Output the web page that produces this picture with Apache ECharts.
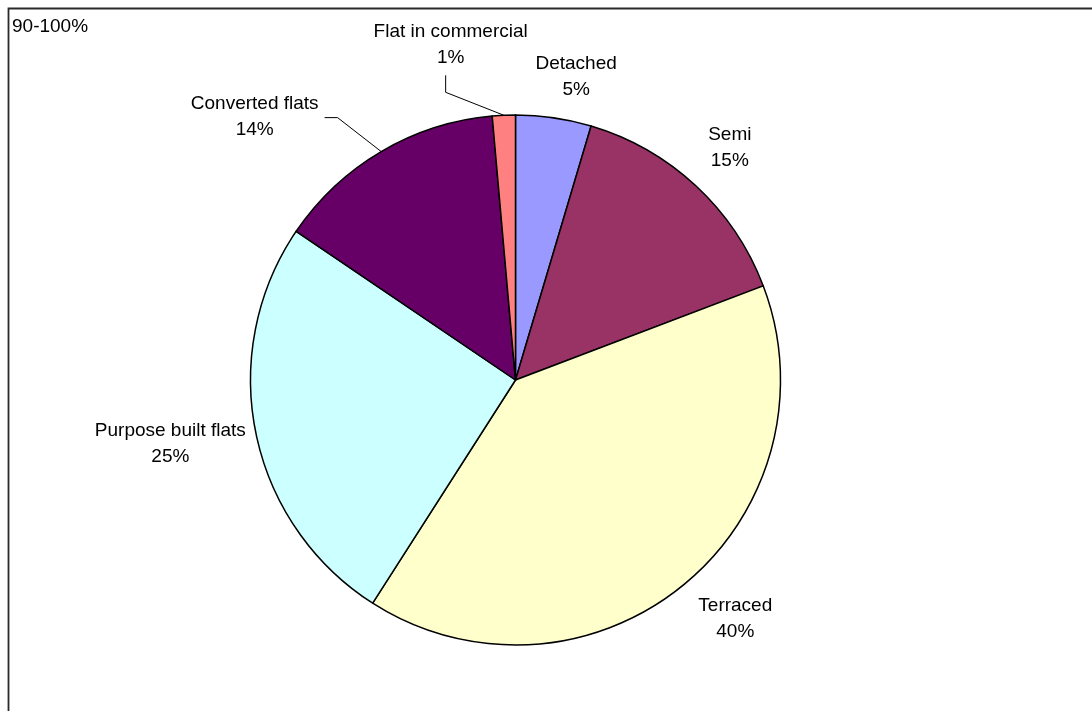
<!DOCTYPE html>
<html>
<head>
<meta charset="utf-8">
<script src="https://cdn.jsdelivr.net/npm/echarts@6/dist/echarts.min.js"></script>
<style>
html,body{margin:0;padding:0;background:#fff;}
#chart{width:1092px;height:711px;}
</style>
</head>
<body>
<div id="chart"></div>
<script>
// ---- data ----
const title = '90-100%';
const categories = ['Detached', 'Semi', 'Terraced', 'Purpose built flats', 'Converted flats', 'Flat in commercial'];
const values = [4.6, 14.6, 39.8, 25.4, 14.1, 1.4];
const colors = ['#9999FF', '#993366', '#FFFFCC', '#CCFFFF', '#660066', '#FF8080'];

// ---- layout ----
const CX = 515.5, CY = 380, R = 265;
const LABEL_GAP = 283;
const labelNudge = {
  'Detached': [14, 3],
  'Semi': [7, -6],
  'Terraced': [18, -1],
  'Purpose built flats': [6, 2],
  'Converted flats': [-85, 3],
  'Flat in commercial': [-49, -27]
};
const withLeader = { 'Converted flats': true, 'Flat in commercial': true };

const total = values.reduce((a, b) => a + b, 0);
const midAngles = [];
let cum = 0;
values.forEach(v => { midAngles.push((cum + v / 2) / total * Math.PI * 2); cum += v; });

const chart = echarts.init(document.getElementById('chart'), null, { renderer: 'canvas' });
const FONT = "'Liberation Sans', Arial, sans-serif";

chart.setOption({
  backgroundColor: '#fff',
  animation: false,
  graphic: [
    { type: 'rect', shape: { x: 8.5, y: 8.5, width: 1200, height: 800 }, style: { fill: 'none', stroke: '#2a2a2a', lineWidth: 1.8 }, silent: true },
    { type: 'text', left: 12, top: 17, style: { text: title, font: '19px ' + FONT, fill: '#000' } }
  ],
  series: [{
    type: 'pie',
    center: [CX, CY],
    radius: R,
    startAngle: 90,
    clockwise: true,
    avoidLabelOverlap: false,
    percentPrecision: 0,
    data: categories.map((c, i) => ({
      name: c,
      value: values[i],
      itemStyle: { color: colors[i] },
      labelLine: { show: !!withLeader[c] }
    })),
    itemStyle: { borderColor: '#000', borderWidth: 1.5 },
    emphasis: { disabled: true },
    label: {
      show: true,
      position: 'outside',
      formatter: p => p.name + '\n' + Math.round(p.value / total * 100) + '%',
      fontFamily: FONT,
      fontSize: 19,
      lineHeight: 26,
      color: '#000',
      align: 'center'
    },
    labelLine: { show: true, lineStyle: { color: '#000', width: 1 }, length: 10, length2: 10 },
    labelLayout: function (params) {
      const i = params.dataIndex;
      const name = categories[i];
      const a = midAngles[i];
      const ux = Math.sin(a), uy = -Math.cos(a);
      const w = params.labelRect.width, h = params.labelRect.height;
      const n = labelNudge[name] || [0, 0];
      const x = CX + LABEL_GAP * ux + ux * w / 2 + n[0];
      const y = CY + LABEL_GAP * uy + uy * h / 2 + n[1];
      const res = { x: x, y: y, align: 'center', verticalAlign: 'middle' };
      if (withLeader[name]) {
        const sx = CX + R * ux, sy = CY + R * uy;
        const dx = x - sx, dy = y - sy;
        if (Math.abs(dy) > Math.abs(dx)) {
          const ey = y + h / 2 + 5;
          res.labelLinePoints = [[sx, sy], [x - 5, ey + 17], [x - 5, ey]];
        } else {
          const ex = x + w / 2 + 6;
          res.labelLinePoints = [[sx, sy], [ex + 13, y + 1], [ex, y + 1]];
        }
      }
      return res;
    }
  }]
});
</script>
</body>
</html>
